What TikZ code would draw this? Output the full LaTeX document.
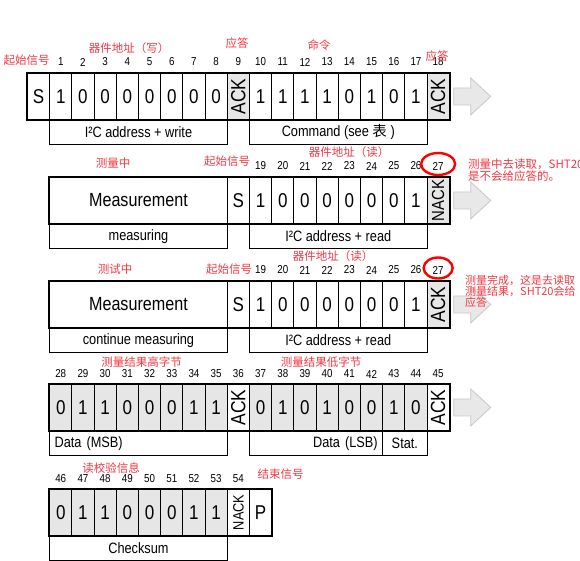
\documentclass[tikz,border=0pt]{standalone}
\usepackage{fontspec}
\setmainfont[FakeStretch=0.85]{Liberation Sans}
\newfontfamily\cjk{Noto Sans CJK SC}
\definecolor{hlred}{RGB}{245,55,65}
\definecolor{cellgray}{RGB}{230,230,230}
\definecolor{arrowgray}{RGB}{232,232,232}
\definecolor{arrowedge}{RGB}{200,200,200}
\newcommand\vtext[2]{\rotatebox{90}{\fontsize{#1}{#1}\selectfont #2}}

\begin{document}
\begin{tikzpicture}[x=1pt,y=-1pt,
  cellbox/.style = {draw, line width=0.9pt, minimum width=22.2pt,
    minimum height=46pt, inner sep=0pt, anchor=north west,
    font=\fontsize{20}{20}\selectfont},
  graycell/.style = {cellbox, fill=cellgray},
  labelbox/.style = {draw, line width=0.9pt, minimum height=24pt,
    inner sep=0pt, anchor=north west, font=\fontsize{15}{15}\selectfont},
  outline/.style = {line width=2pt},
  bitnum/.style = {font=\fontsize{11.5}{12}\selectfont, inner sep=0pt},
  redlab/.style = {text=hlred, font=\cjk\fontsize{11.5}{12}\selectfont,
    inner sep=0pt},
  grayarrow/.style = {fill=arrowgray, draw=arrowedge, line width=0.8pt},
  redring/.style = {draw=red, line width=2.4pt}]
  \useasboundingbox (0,0) rectangle (580,560);

  % row 1: address + write, command
  \node[cellbox] (r1c0) at (27,73) {S};
  \foreach \b [count=\i] in {1,0,0,0,0,0,0,0}
    \node[cellbox] (r1c\i) at (27+\i*22.2,73) {\b};
  \node[graycell] (r1c9) at (27+9*22.2,73) {\vtext{20.5}{ACK}};
  \foreach \b [count=\i from 10] in {1,1,1,1,0,1,0,1}
    \node[cellbox] (r1c\i) at (27+\i*22.2,73) {\b};
  \node[graycell] (r1c18) at (27+18*22.2,73) {\vtext{20.5}{ACK}};
  \draw[outline] (r1c0.north west) rectangle (r1c18.south east);
  \foreach \i in {1,...,18}
    \node[bitnum] (r1n\i) at ([yshift=11pt]r1c\i.north) {\i};
  \node[labelbox, minimum width=177.6pt] (r1l1) at (r1c1.south west)
    {I²C address + write};
  \node[labelbox, minimum width=177.6pt] (r1l2) at (r1c10.south west)
    {Command (see {\cjk\fontsize{14.5}{15}\selectfont 表} )};
  \node[redlab] (r1t1) at (26.5,60) {起始信号};
  \node[redlab] (r1t2) at (129,48) {器件地址（写）};
  \node[redlab] (r1t3) at (237,43) {应答};
  \node[redlab] (r1t4) at (319,45) {命令};
  \node[redlab] (r1t5) at (437,56) {应答};

  % row 2: measuring, address + read, no ack
  \node[cellbox, minimum width=177.6pt, font=\fontsize{19}{19}\selectfont]
    (r2c1) at (49.2,177) {Measurement};
  \node[cellbox] (r2c9) at (27+9*22.2,177) {S};
  \foreach \b [count=\i from 10] in {1,0,0,0,0,0,0,1}
    \node[cellbox] (r2c\i) at (27+\i*22.2,177) {\b};
  \node[graycell] (r2c18) at (27+18*22.2,177) {\vtext{17.5}{NACK}};
  \draw[outline] (r2c1.north west) rectangle (r2c18.south east);
  \foreach \i [evaluate=\i as \n using int(\i+9)] in {10,...,18}
    \node[bitnum] (r2n\i) at ([yshift=11pt]r2c\i.north) {\n};
  \node[labelbox, minimum width=177.6pt] (r2l1) at (r2c1.south west)
    {measuring};
  \node[labelbox, minimum width=177.6pt] (r2l2) at (r2c10.south west)
    {I²C address + read};
  \node[redlab] (r2t1) at (113,163) {测量中};
  \node[redlab] (r2t2) at (227,161.5) {起始信号};
  \node[redlab] (r2t3) at (349,152.5) {器件地址（读）};
  \draw[redring] ([yshift=2pt]r2n18) ellipse [x radius=17, y radius=11];
  \node[redlab, anchor=west, align=left] (r2t4) at (468,170.5)
    {测量中去读取，SHT20\\是不会给应答的。};

  % row 3: continue measuring, address + read, ack
  \node[cellbox, minimum width=177.6pt, font=\fontsize{19}{19}\selectfont]
    (r3c1) at (49.2,281) {Measurement};
  \node[cellbox] (r3c9) at (27+9*22.2,281) {S};
  \foreach \b [count=\i from 10] in {1,0,0,0,0,0,0,1}
    \node[cellbox] (r3c\i) at (27+\i*22.2,281) {\b};
  \node[graycell] (r3c18) at (27+18*22.2,281) {\vtext{20.5}{ACK}};
  \draw[outline] (r3c1.north west) rectangle (r3c18.south east);
  \foreach \i [evaluate=\i as \n using int(\i+9)] in {10,...,18}
    \node[bitnum] (r3n\i) at ([yshift=11pt]r3c\i.north) {\n};
  \node[labelbox, minimum width=177.6pt] (r3l1) at (r3c1.south west)
    {continue measuring};
  \node[labelbox, minimum width=177.6pt] (r3l2) at (r3c10.south west)
    {I²C address + read};
  \node[redlab] (r3t1) at (115,269) {测试中};
  \node[redlab] (r3t2) at (229,269) {起始信号};
  \node[redlab] (r3t3) at (333,256) {器件地址（读）};
  \draw[redring] ([yshift=2pt]r3n18) ellipse [x radius=14.5, y radius=10.5];

  % row 4: data bytes
  \foreach \b [count=\i] in {0,1,1,0,0,0,1,1}
    \node[graycell] (r4c\i) at (27+\i*22.2,384) {\b};
  \node[cellbox] (r4c9) at (27+9*22.2,384) {\vtext{20.5}{ACK}};
  \foreach \b [count=\i from 10] in {0,1,0,1,0,0,1,0}
    \node[graycell] (r4c\i) at (27+\i*22.2,384) {\b};
  \node[cellbox] (r4c18) at (27+18*22.2,384) {\vtext{20.5}{ACK}};
  \draw[outline] (r4c1.north west) rectangle (r4c18.south east);
  \foreach \i [evaluate=\i as \n using int(\i+27)] in {1,...,18}
    \node[bitnum] (r4n\i) at ([yshift=10pt]r4c\i.north) {\n};
  \node[labelbox, text width=167.6pt, inner xsep=5pt, align=left]
    (r4l1) at (r4c1.south west) {Data (MSB)};
  \node[labelbox, text width=123.2pt, inner xsep=5pt, align=right]
    (r4l2) at (r4c10.south west) {Data (LSB)};
  \node[labelbox, minimum width=44.4pt] (r4l3) at (r4c16.south west) {Stat.};
  \node[redlab] (r4t1) at (141.5,362.5) {测量结果高字节};
  \node[redlab] (r4t2) at (321,362.5) {测量结果低字节};

  % row 5: checksum, stop
  \foreach \b [count=\i] in {0,1,1,0,0,0,1,1}
    \node[graycell] (r5c\i) at (27+\i*22.2,489) {\b};
  \node[cellbox] (r5c9) at (27+9*22.2,489) {\vtext{15}{NACK}};
  \node[cellbox] (r5c10) at (27+10*22.2,489) {P};
  \draw[outline] (r5c1.north west) rectangle (r5c10.south east);
  \foreach \i [evaluate=\i as \n using int(\i+45)] in {1,...,9}
    \node[bitnum] (r5n\i) at ([yshift=10.5pt]r5c\i.north) {\n};
  \node[labelbox, minimum width=177.6pt] (r5l1) at (r5c1.south west)
    {Checksum};
  \node[redlab] (r5t1) at (111,468) {读校验信息};
  \node[redlab] (r5t2) at (280.5,474.5) {结束信号};

  % continuation arrows
  \foreach \k in {r1,r2,r3,r4}
    \draw[grayarrow] ([shift={(4,-8.5)}]\k c18.east) -- ++(17,0) -- ++(0,-10)
      -- ++(20,18.5) -- ++(-20,18.5) -- ++(0,-10) -- ++(-17,0) -- cycle;
  \node[redlab, anchor=west, align=left,
    font=\cjk\fontsize{11}{10.7}\selectfont] (r3t4) at (465,291.5)
    {测量完成，这是去读取\\测量结果，SHT20会给\\应答};
\end{tikzpicture}
\end{document}
